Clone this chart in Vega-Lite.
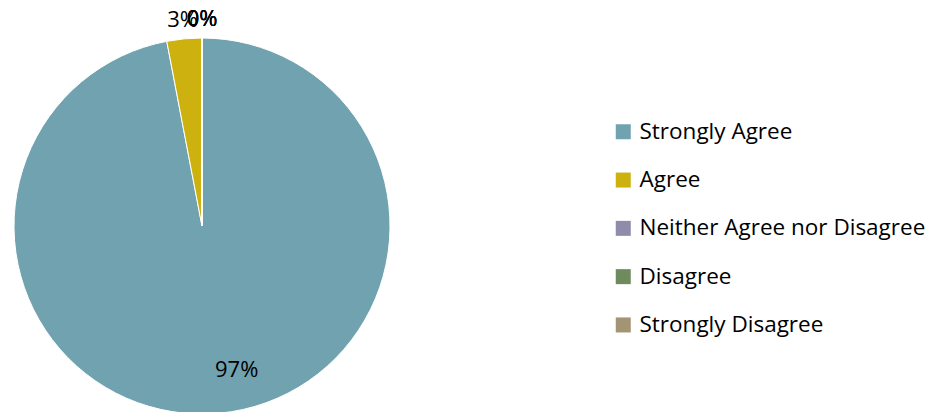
{
  "$schema": "https://vega.github.io/schema/vega-lite/v6.json",
  "width": 404,
  "height": 452,
  "padding": 0,
  "autosize": {"type": "pad"},
  "background": "white",
  "config": {"view": {"stroke": null}},
  "data": {
    "values": [
      {"rank": 1, "category": "Strongly Agree", "pct": 97, "label": "97%"},
      {"rank": 2, "category": "Agree", "pct": 3, "label": "3%"},
      {"rank": 3, "category": "Neither Agree nor Disagree", "pct": 0, "label": "0%"},
      {"rank": 4, "category": "Disagree", "pct": 0, "label": "0%"},
      {"rank": 5, "category": "Strongly Disagree", "pct": 0, "label": "0%"}
    ]
  },
  "encoding": {
    "theta": {"field": "pct", "type": "quantitative", "stack": true},
    "order": {"field": "rank", "type": "ordinal"}
  },
  "layer": [
    {
      "mark": {"type": "arc", "outerRadius": 188, "stroke": "white", "strokeWidth": 1},
      "encoding": {
        "color": {
          "field": "category",
          "type": "nominal",
          "sort": ["Strongly Agree", "Agree", "Neither Agree nor Disagree", "Disagree", "Strongly Disagree"],
          "scale": {
            "domain": ["Strongly Agree", "Agree", "Neither Agree nor Disagree", "Disagree", "Strongly Disagree"],
            "range": ["#70A2B0", "#CDB10E", "#8E8BAB", "#6F8A5D", "#A39473"]
          },
          "legend": {
            "title": null,
            "orient": "none",
            "legendX": 612,
            "legendY": 120.5,
            "symbolType": "square",
            "symbolSize": 225,
            "symbolStrokeWidth": 0,
            "labelFont": "Open Sans",
            "labelFontSize": 22.5,
            "labelColor": "#000000",
            "labelOffset": 5,
            "rowPadding": 25.3,
            "labelLimit": 400
          }
        }
      }
    },
    {
      "mark": {"type": "text", "radius": 145, "dx": 21, "font": "Open Sans", "fontSize": 22, "color": "#000000", "align": "center", "baseline": "middle"},
      "encoding": {
        "text": {
          "condition": {"test": "datum.category === 'Strongly Agree'", "field": "label", "type": "nominal"},
          "value": ""
        }
      }
    },
    {
      "mark": {"type": "text", "radius": 207, "font": "Open Sans", "fontSize": 22, "color": "#000000", "align": "center", "baseline": "middle"},
      "encoding": {
        "text": {
          "condition": {"test": "datum.category !== 'Strongly Agree'", "field": "label", "type": "nominal"},
          "value": ""
        }
      }
    }
  ]
}
